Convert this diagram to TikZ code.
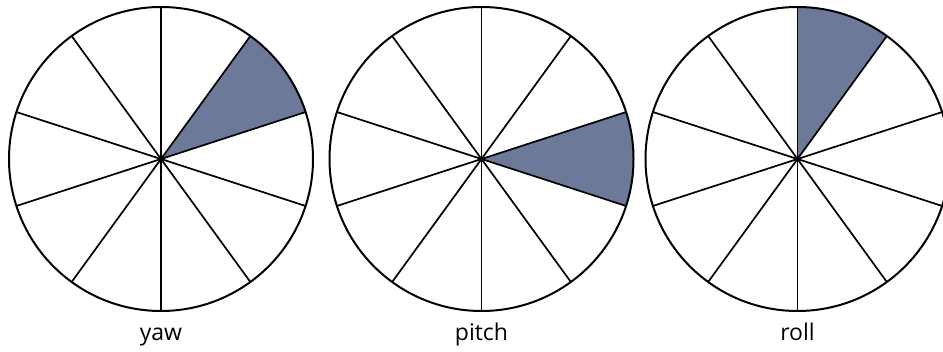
\documentclass[tikz,border=0pt]{standalone}
\usepackage{fontspec}
\setsansfont{Open Sans}
\usetikzlibrary{backgrounds}
\definecolor{sectorblue}{RGB}{108,121,152}

\begin{document}
\begin{tikzpicture}[x=1pt,y=1pt,
  wheel/.style={circle,draw,line width=2pt,minimum size=304pt,inner sep=0pt,outer sep=0pt},
  spoke/.style={line width=1.7pt},
  axislabel/.style={font=\sffamily\fontsize{23}{27}\selectfont,anchor=base}]
\useasboundingbox (0,0) rectangle (943,351);
\clip (0,0) rectangle (943,351);
% one wheel per rotation axis, ten sectors each, one sector shaded
\foreach \nm/\xx/\lo in {yaw/161/18, pitch/481.5/-18, roll/797.5/54}{
  \node[wheel] (\nm) at (\xx,192){};
  \begin{scope}[on background layer]
    \fill[sectorblue] (\nm.center) -- (\nm.\lo) arc[start angle=\lo,delta angle=36,radius=152pt] -- cycle;
  \end{scope}
  \foreach \a in {18,54,90,126,162}{
    \pgfmathtruncatemacro{\b}{\a+180}
    \draw[spoke] (\nm.\a) -- (\nm.\b);
  }
  \node[axislabel] (\nm-lbl) at (\xx,11){\nm};
}
\end{tikzpicture}
\end{document}
